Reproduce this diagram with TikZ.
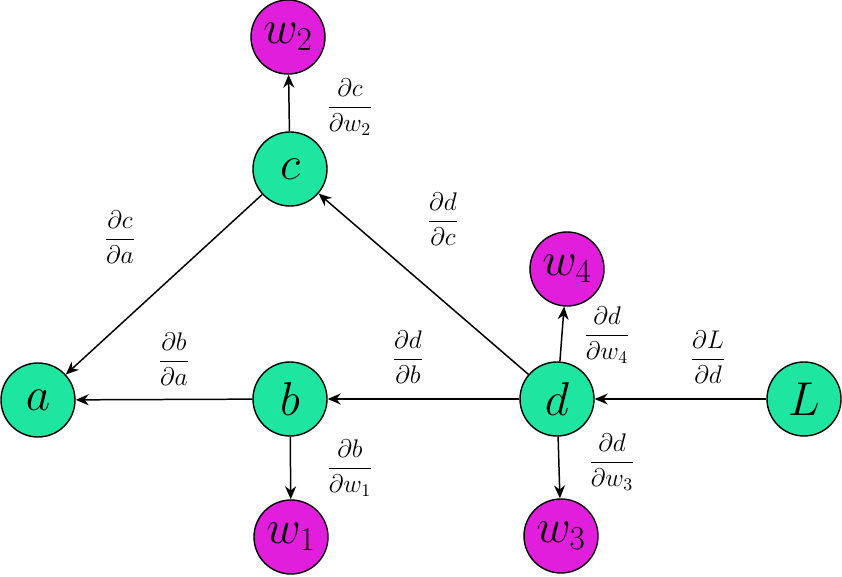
\RequirePackage{fix-cm}
\documentclass[tikz,border=0pt]{standalone}
\usepackage{amsmath}
\usetikzlibrary{arrows.meta}

\definecolor{vargreen}{RGB}{30,230,160}
\definecolor{wmagenta}{RGB}{225,30,220}

\begin{document}
\begin{tikzpicture}[
  var/.style={circle, draw=black, line width=0.8pt, fill=vargreen,
    minimum size=1.48cm, inner sep=0pt, font=\fontsize{27}{31}\selectfont},
  weight/.style={var, fill=wmagenta},
  grad/.style={inner sep=0pt, font=\fontsize{14.5}{17}\selectfont},
  back/.style={-{Stealth[length=2.6mm, width=2.2mm]}, line width=0.85pt}
]
\useasboundingbox (0,0) rectangle (16.84,11.52);

% variables
\node[var] (a) at (0.76,3.52) {$a$};
\node[var] (b) at (5.80,3.54) {$b$};
\node[var] (c) at (5.80,8.14) {$c$};
\node[var] (d) at (11.14,3.54) {$d$};
\node[var] (L) at (16.08,3.54) {$L$};

% weights
\node[weight] (w1) at (5.82,0.78) {$w_1$};
\node[weight] (w2) at (5.76,10.78) {$w_2$};
\node[weight] (w3) at (11.22,0.80) {$w_3$};
\node[weight] (w4) at (11.34,6.14) {$w_4$};

% backward edges
\draw[back] (c) -- (w2);
\draw[back] (c) -- (a);
\draw[back] (b) -- (a);
\draw[back] (b) -- (w1);
\draw[back] (d) -- (c);
\draw[back] (d) -- (b);
\draw[back] (d) -- (w4);
\draw[back] (d) -- (w3);
\draw[back] (L) -- (d);

% local gradients
\node[grad] (gcw2) at (7.00,9.38) {$\dfrac{\partial c}{\partial w_2}$};
\node[grad] (gca) at (2.40,6.78) {$\dfrac{\partial c}{\partial a}$};
\node[grad] (gdc) at (8.86,7.14) {$\dfrac{\partial d}{\partial c}$};
\node[grad] (gba) at (3.48,4.34) {$\dfrac{\partial b}{\partial a}$};
\node[grad] (gdb) at (8.16,4.38) {$\dfrac{\partial d}{\partial b}$};
\node[grad] (gbw1) at (7.00,2.16) {$\dfrac{\partial b}{\partial w_1}$};
\node[grad] (gdw4) at (12.14,4.82) {$\dfrac{\partial d}{\partial w_4}$};
\node[grad] (gdw3) at (12.24,2.28) {$\dfrac{\partial d}{\partial w_3}$};
\node[grad] (gLd) at (14.16,4.38) {$\dfrac{\partial L}{\partial d}$};
\end{tikzpicture}
\end{document}
